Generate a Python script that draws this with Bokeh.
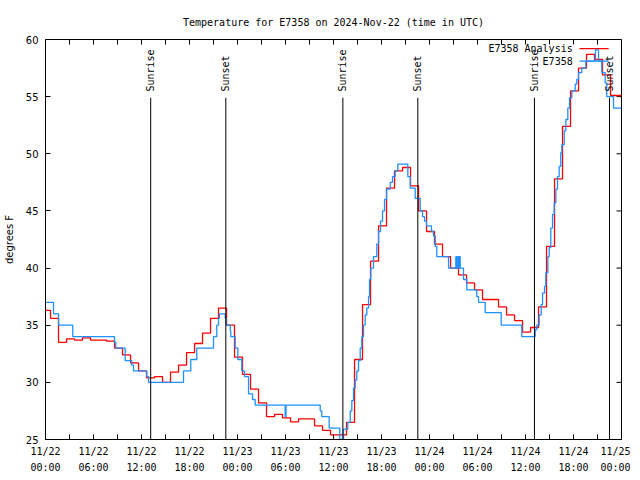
import math
import pandas as pd
from bokeh.plotting import figure
from bokeh.models import Range1d, FixedTicker, DatetimeTickFormatter
from bokeh.core.properties import value
from bokeh.embed import file_html
from bokeh.resources import INLINE

# ---------------- data ----------------
T0 = pd.Timestamp("2024-11-22 00:00")

# E7358 Analysis (hourly values, change at ~:38 past each hour)
red_vals = [36.3, 35.6, 33.5, 33.8, 33.7, 33.9, 33.7, 33.7, 33.6, 33.0,
            32.4, 31.7, 31.0, 30.4, 30.5, 30.0, 30.9, 31.5, 32.6, 33.4,
            34.3, 35.6, 36.5, 35.0, 32.2, 30.7, 29.4, 28.2, 27.0, 27.2,
            26.9, 26.55, 26.8, 26.8, 26.2, 25.8, 25.4, 25.4, 26.5, 32.0,
            36.8, 40.6, 43.7, 47.0, 48.5, 48.8, 47.2, 45.0, 43.2, 42.1,
            41.0, 40.0, 39.4, 38.7, 38.1, 37.25, 37.25, 36.6, 35.9, 35.4,
            34.4, 34.8, 36.6, 41.9, 47.8, 52.4, 55.5, 57.5, 58.7, 58.25,
            56.9, 55.1, 55.1]

# E7358 observations: hours after 11/22 00:00 UTC and temperature
blue_hours = [0.0, 1.0, 1.63, 3.41, 8.63, 8.79, 9.96, 10.79, 11.0, 12.66,
              12.88, 17.25, 18.16, 18.91, 21.0, 21.41, 21.63, 21.75, 22.46, 22.59,
              23.09, 23.16, 23.71, 24.04, 24.54, 24.88, 25.38, 25.88, 26.21, 29.96,
              30.06, 34.34, 34.54, 35.46, 36.79, 37.25, 37.79, 38.09, 38.29, 38.5,
              38.71, 38.91, 39.13, 39.34, 39.54, 39.75, 39.96, 40.16, 40.38, 40.5,
              40.66, 41.0, 41.41, 41.63, 41.88, 42.13, 42.38, 42.63, 43.09, 43.38,
              43.71, 44.04, 45.29, 45.59, 46.21, 46.84, 47.13, 47.38, 47.63, 48.25,
              48.5, 48.71, 48.91, 50.38, 51.29, 51.41, 51.54, 51.66, 51.75, 51.84,
              52.25, 52.66, 53.91, 54.13, 54.96, 56.96, 59.54, 61.21, 61.41, 61.71,
              61.96, 62.13, 62.38, 62.54, 62.79, 62.96, 63.16, 63.38, 63.59, 63.79,
              64.0, 64.21, 64.41, 64.54, 64.84, 65.04, 65.29, 65.5, 65.79, 66.21,
              66.41, 66.63, 67.04, 67.54, 68.75, 69.13, 69.54, 69.96, 70.16, 71.0,
              72.0]
blue_vals = [37.0, 36.0, 35.0, 34.0, 33.5, 33.0, 31.9, 31.5, 31.0, 30.5,
             30.0, 31.0, 32.0, 33.0, 34.0, 35.0, 35.6, 36.0, 35.6, 35.0,
             34.5, 34.0, 33.0, 32.0, 31.0, 30.5, 29.0, 28.5, 28.0, 27.0,
             28.0, 27.5, 27.0, 26.0, 25.0, 25.9, 26.5, 27.5, 28.4, 29.5,
             30.2, 31.0, 31.9, 33.0, 34.0, 35.0, 35.9, 36.5, 37.5, 39.0,
             40.0, 41.0, 42.1, 43.2, 44.1, 45.0, 46.0, 46.9, 47.5, 48.0,
             48.5, 49.1, 48.0, 47.0, 46.1, 45.0, 44.5, 44.1, 43.7, 43.2,
             42.8, 41.9, 41.0, 40.0, 41.0, 40.0, 41.0, 40.0, 41.0, 40.0,
             39.0, 38.1, 37.5, 37.0, 36.1, 35.0, 34.0, 34.6, 35.0, 35.9,
             36.8, 37.8, 38.4, 39.6, 41.0, 41.8, 43.5, 44.7, 45.7, 46.9,
             48.0, 48.9, 50.1, 50.8, 52.0, 53.0, 54.0, 54.9, 55.5, 56.1,
             56.5, 57.1, 57.5, 58.1, 59.1, 58.1, 57.1, 56.2, 55.0, 54.0,
             54.0]

sun_labels = ["Sunrise", "Sunset", "Sunrise", "Sunset", "Sunrise", "Sunset"]
sun_hours = [13.15, 22.54, 37.17, 46.54, 61.12, 70.5]

y_ticks = [25, 30, 35, 40, 45, 50, 55, 60]
x_tick_hours = [0, 6, 12, 18, 24, 30, 36, 42, 48, 54, 60, 66, 72]
x_minor_hours = [3, 9, 15, 21, 27, 33, 39, 45, 51, 57, 63, 69]

def ms(h):
    return (T0 + pd.Timedelta(hours=h)).value / 1e6

red_x = [ms(0)] + [ms(k + 0.63) for k in range(len(red_vals) - 1)]
red_x = red_x + [ms(72)]
red_y = red_vals + [red_vals[-1]]
blue_x = [ms(h) for h in blue_hours]

MONO = "DejaVu Sans Mono"
SANS = "DejaVu Sans"

X0, X1 = ms(0), ms(72)
Y0, Y1 = 25, 60

p = figure(frame_width=576, frame_height=400, x_axis_type="datetime",
           output_backend="svg", toolbar_location=None,
           x_range=Range1d(X0, X1), y_range=Range1d(Y0, Y1),
           min_border_left=39, min_border_right=9, min_border_top=39,
           min_border_bottom=30,
           title="Temperature for E7358 on 2024-Nov-22 (time in UTC)")
p.title.align = "center"
p.title.text_font = MONO
p.title.text_font_size = "10px"
p.title.text_font_style = "normal"
p.title.text_color = "black"
p.title.standoff = 24
p.xgrid.visible = False
p.ygrid.visible = False
p.outline_line_color = "black"
p.outline_line_alpha = 1
p.background_fill_color = "white"
p.border_fill_color = "white"

fmt_str = "%m/%d\n%H:%M"
fmt = DatetimeTickFormatter(microseconds=fmt_str, milliseconds=fmt_str, seconds=fmt_str,
                            minsec=fmt_str, minutes=fmt_str, hourmin=fmt_str,
                            hours=fmt_str, days=fmt_str, months=fmt_str, years=fmt_str,
                            context=None)
xticker = FixedTicker(ticks=[ms(h) for h in x_tick_hours],
                      minor_ticks=[ms(h) for h in x_minor_hours])
yticker = FixedTicker(ticks=y_ticks, minor_ticks=[])

def style_axis(ax):
    ax.axis_line_color = "black"
    ax.major_tick_line_color = "black"
    ax.minor_tick_line_color = "black"
    ax.major_tick_in = 5
    ax.major_tick_out = 0
    ax.minor_tick_in = 5
    ax.minor_tick_out = 0

xa = p.xaxis[0]
xa.ticker = xticker
xa.formatter = fmt
style_axis(xa)
xa.major_label_text_font = MONO
xa.major_label_text_font_size = "10px"
xa.major_label_text_color = "black"
xa.major_label_standoff = 6
xa.major_label_text_line_height = 1.5

ya = p.yaxis[0]
ya.ticker = yticker
style_axis(ya)
ya.minor_tick_line_color = None
ya.major_label_text_font = SANS
ya.major_label_text_font_size = "10px"
ya.major_label_text_color = "black"
ya.major_label_standoff = 7
ya.axis_label = "degrees F"
ya.axis_label_text_font = SANS
ya.axis_label_text_font_size = "10px"
ya.axis_label_text_font_style = "normal"
ya.axis_label_text_color = "black"
ya.axis_label_standoff = 8

# mirrored inward ticks on the top and right frame edges (5 px long)
top_x = [ms(h) for h in x_tick_hours + x_minor_hours]
tick_dy = (Y1 - Y0) * 5 / 400
p.segment(x0=top_x, y0=[Y1] * len(top_x), x1=top_x, y1=[Y1 - tick_dy] * len(top_x),
          line_color="black", line_width=1)
tick_dx = (X1 - X0) * 5 / 576
p.segment(x0=[X1] * len(y_ticks), y0=y_ticks, x1=[X1 - tick_dx] * len(y_ticks),
          y1=y_ticks, line_color="black", line_width=1)

# data series
p.step(red_x, red_y, mode="after", line_color="#FF0000", line_width=1.3)
p.step(blue_x, blue_vals, mode="after", line_color="#1E90FF", line_width=1.3)

# sunrise / sunset markers
sun_x = [ms(h) for h in sun_hours]
p.segment(x0=sun_x, y0=[Y0] * len(sun_x), x1=sun_x,
          y1=[54.9] * len(sun_x), line_color="black", line_width=1)
p.text(x=sun_x, y=[55.45] * len(sun_x), text=sun_labels, angle=math.pi / 2,
       text_align="left", text_baseline="middle", text_color="black",
       text_font=value(MONO), text_font_size="10px")

# legend (label left, line sample right)
p.text(x=[ms(65.9), ms(65.9)], y=[59.2, 58.05], text=["E7358 Analysis", "E7358"],
       text_align="right", text_baseline="middle", text_color="black",
       text_font=value(MONO), text_font_size="10px")
p.line([ms(66.75), ms(70.4)], [59.2, 59.2], line_color="#FF0000", line_width=1.3)
p.line([ms(66.75), ms(70.4)], [58.1, 58.1], line_color="#1E90FF", line_width=1.3)

open("out.html", "w").write(file_html(p, INLINE))
